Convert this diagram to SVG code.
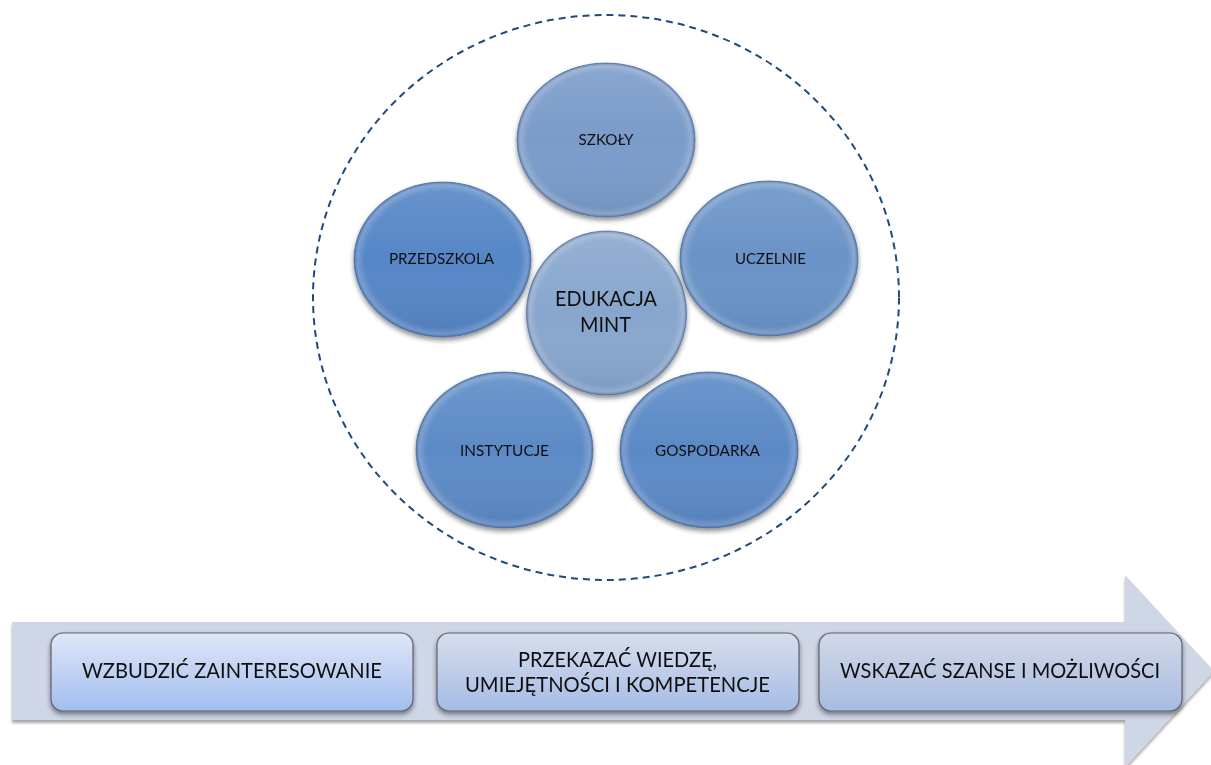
<svg xmlns="http://www.w3.org/2000/svg" width="1211" height="765" viewBox="0 0 1211 765">
  <defs>
    <style>
      .lbl { font-family: Lato, "Open Sans", "Liberation Sans", sans-serif; fill: #111; text-anchor: middle; }
      .small { font-size: 16px; }
      .big { font-size: 22px; }
      .step { font-size: 21px; }
      .orb-rim { fill: url(#bevel); }
      .orb-edge { fill: none; stroke: #4d6f9f; stroke-width: 1; stroke-opacity: 0.7; }
      .box { stroke: #5b6170; stroke-width: 1.2; }
    </style>
    <!-- soft drop shadow used by the discs and boxes -->
    <filter id="shadow" x="-20%" y="-20%" width="140%" height="150%">
      <feGaussianBlur in="SourceAlpha" stdDeviation="2.5"/>
      <feOffset dy="3" result="b"/>
      <feComponentTransfer><feFuncA type="linear" slope="0.45"/></feComponentTransfer>
      <feMerge><feMergeNode/><feMergeNode in="SourceGraphic"/></feMerge>
    </filter>
    <filter id="bandShadow" x="-5%" y="-20%" width="110%" height="150%">
      <feGaussianBlur in="SourceAlpha" stdDeviation="1.5"/>
      <feOffset dy="3" result="b"/>
      <feComponentTransfer><feFuncA type="linear" slope="0.35"/></feComponentTransfer>
      <feMerge><feMergeNode/><feMergeNode in="SourceGraphic"/></feMerge>
    </filter>
    <!-- bevel: light rim on top, darker rim at bottom -->
    <radialGradient id="bevel" cx="50%" cy="50%" r="50%">
      <stop offset="0.88" stop-color="#ffffff" stop-opacity="0"/>
      <stop offset="0.96" stop-color="#ffffff" stop-opacity="0.18"/>
      <stop offset="1" stop-color="#203a66" stop-opacity="0.35"/>
    </radialGradient>
    <linearGradient id="sheen" x1="0" y1="0" x2="0" y2="1">
      <stop offset="0" stop-color="#ffffff" stop-opacity="0.12"/>
      <stop offset="0.5" stop-color="#ffffff" stop-opacity="0"/>
      <stop offset="1" stop-color="#1a3560" stop-opacity="0.12"/>
    </linearGradient>
    <linearGradient id="box1" x1="0" y1="0" x2="0" y2="1">
      <stop offset="0" stop-color="#dfe7f8"/>
      <stop offset="1" stop-color="#a2bdee"/>
    </linearGradient>
    <linearGradient id="box2" x1="0" y1="0" x2="0" y2="1">
      <stop offset="0" stop-color="#d7deec"/>
      <stop offset="1" stop-color="#a5bce6"/>
    </linearGradient>
    <linearGradient id="box3" x1="0" y1="0" x2="0" y2="1">
      <stop offset="0" stop-color="#d2d9e8"/>
      <stop offset="1" stop-color="#a7bbe0"/>
    </linearGradient>
  </defs>

  <rect width="1211" height="765" fill="#ffffff"/>

  <!-- dashed boundary around the cluster -->
  <ellipse id="boundary" cx="606" cy="297.5" rx="293" ry="282.5" fill="none" stroke="#1f4a80" stroke-width="2" stroke-dasharray="7 5"/>

  <!-- process arrow -->
  <g id="arrow">
    <path d="M12,622 L1125,622 L1125,575 L1214,671 L1125,767 L1125,720 L12,720 Z" fill="#cfd6e6" filter="url(#bandShadow)"/>
  </g>

  <!-- discs -->
  <g id="szkoly" filter="url(#shadow)">
    <ellipse cx="606" cy="140" rx="89" ry="77" fill="#7a9bc9"/>
    <ellipse cx="606" cy="140" rx="89" ry="77" fill="url(#sheen)"/>
    <ellipse cx="606" cy="140" rx="89" ry="77" class="orb-rim"/>
    <ellipse cx="606" cy="140" rx="89" ry="77" class="orb-edge"/>
    <text class="lbl small" x="606" y="145" textLength="55" lengthAdjust="spacingAndGlyphs">SZKOŁY</text>
  </g>

  <g id="przedszkola" filter="url(#shadow)">
    <ellipse cx="442.5" cy="259.5" rx="88.5" ry="77.5" fill="#5686c6"/>
    <ellipse cx="442.5" cy="259.5" rx="88.5" ry="77.5" fill="url(#sheen)"/>
    <ellipse cx="442.5" cy="259.5" rx="88.5" ry="77.5" class="orb-rim"/>
    <ellipse cx="442.5" cy="259.5" rx="88.5" ry="77.5" class="orb-edge"/>
    <text class="lbl small" x="441.5" y="264" textLength="105" lengthAdjust="spacingAndGlyphs">PRZEDSZKOLA</text>
  </g>

  <g id="uczelnie" filter="url(#shadow)">
    <ellipse cx="769" cy="258.5" rx="89" ry="77.5" fill="#6a93c7"/>
    <ellipse cx="769" cy="258.5" rx="89" ry="77.5" fill="url(#sheen)"/>
    <ellipse cx="769" cy="258.5" rx="89" ry="77.5" class="orb-rim"/>
    <ellipse cx="769" cy="258.5" rx="89" ry="77.5" class="orb-edge"/>
    <text class="lbl small" x="770.5" y="264" textLength="71" lengthAdjust="spacingAndGlyphs">UCZELNIE</text>
  </g>

  <g id="instytucje" filter="url(#shadow)">
    <ellipse cx="504.5" cy="450" rx="88.5" ry="78" fill="#5c8ac6"/>
    <ellipse cx="504.5" cy="450" rx="88.5" ry="78" fill="url(#sheen)"/>
    <ellipse cx="504.5" cy="450" rx="88.5" ry="78" class="orb-rim"/>
    <ellipse cx="504.5" cy="450" rx="88.5" ry="78" class="orb-edge"/>
    <text class="lbl small" x="504.5" y="456" textLength="89" lengthAdjust="spacingAndGlyphs">INSTYTUCJE</text>
  </g>

  <g id="gospodarka" filter="url(#shadow)">
    <ellipse cx="709" cy="450" rx="89" ry="78" fill="#5b89c6"/>
    <ellipse cx="709" cy="450" rx="89" ry="78" fill="url(#sheen)"/>
    <ellipse cx="709" cy="450" rx="89" ry="78" class="orb-rim"/>
    <ellipse cx="709" cy="450" rx="89" ry="78" class="orb-edge"/>
    <text class="lbl small" x="707.5" y="456" textLength="105" lengthAdjust="spacingAndGlyphs">GOSPODARKA</text>
  </g>

  <g id="edukacja" filter="url(#shadow)">
    <ellipse cx="606.5" cy="313" rx="80" ry="82" fill="#88a6cd"/>
    <ellipse cx="606.5" cy="313" rx="80" ry="82" fill="url(#sheen)"/>
    <ellipse cx="606.5" cy="313" rx="80" ry="82" class="orb-rim"/>
    <ellipse cx="606.5" cy="313" rx="80" ry="82" class="orb-edge"/>
    <text class="lbl big" x="606" y="306" textLength="102" lengthAdjust="spacingAndGlyphs">EDUKACJA</text>
    <text class="lbl big" x="605.5" y="332" textLength="51" lengthAdjust="spacingAndGlyphs">MINT</text>
  </g>

  <!-- steps along the arrow -->
  <g id="step1" filter="url(#shadow)">
    <rect class="box" x="51" y="633" width="362" height="78" rx="12" fill="url(#box1)"/>
    <text class="lbl step" x="232" y="678" textLength="300" lengthAdjust="spacingAndGlyphs">WZBUDZIĆ ZAINTERESOWANIE</text>
  </g>

  <g id="step2" filter="url(#shadow)">
    <rect class="box" x="437" y="633" width="362" height="78" rx="12" fill="url(#box2)"/>
    <text class="lbl step" x="617.5" y="667" textLength="199" lengthAdjust="spacingAndGlyphs">PRZEKAZAĆ WIEDZĘ,</text>
    <text class="lbl step" x="617.5" y="692" textLength="305" lengthAdjust="spacingAndGlyphs">UMIEJĘTNOŚCI I KOMPETENCJE</text>
  </g>

  <g id="step3" filter="url(#shadow)">
    <rect class="box" x="819" y="633" width="363" height="78" rx="12" fill="url(#box3)"/>
    <text class="lbl step" x="1000" y="678" textLength="320" lengthAdjust="spacingAndGlyphs">WSKAZAĆ SZANSE I MOŻLIWOŚCI</text>
  </g>

  <!-- no connectors between nodes in this figure -->
  <g id="connectors"/>
</svg>
